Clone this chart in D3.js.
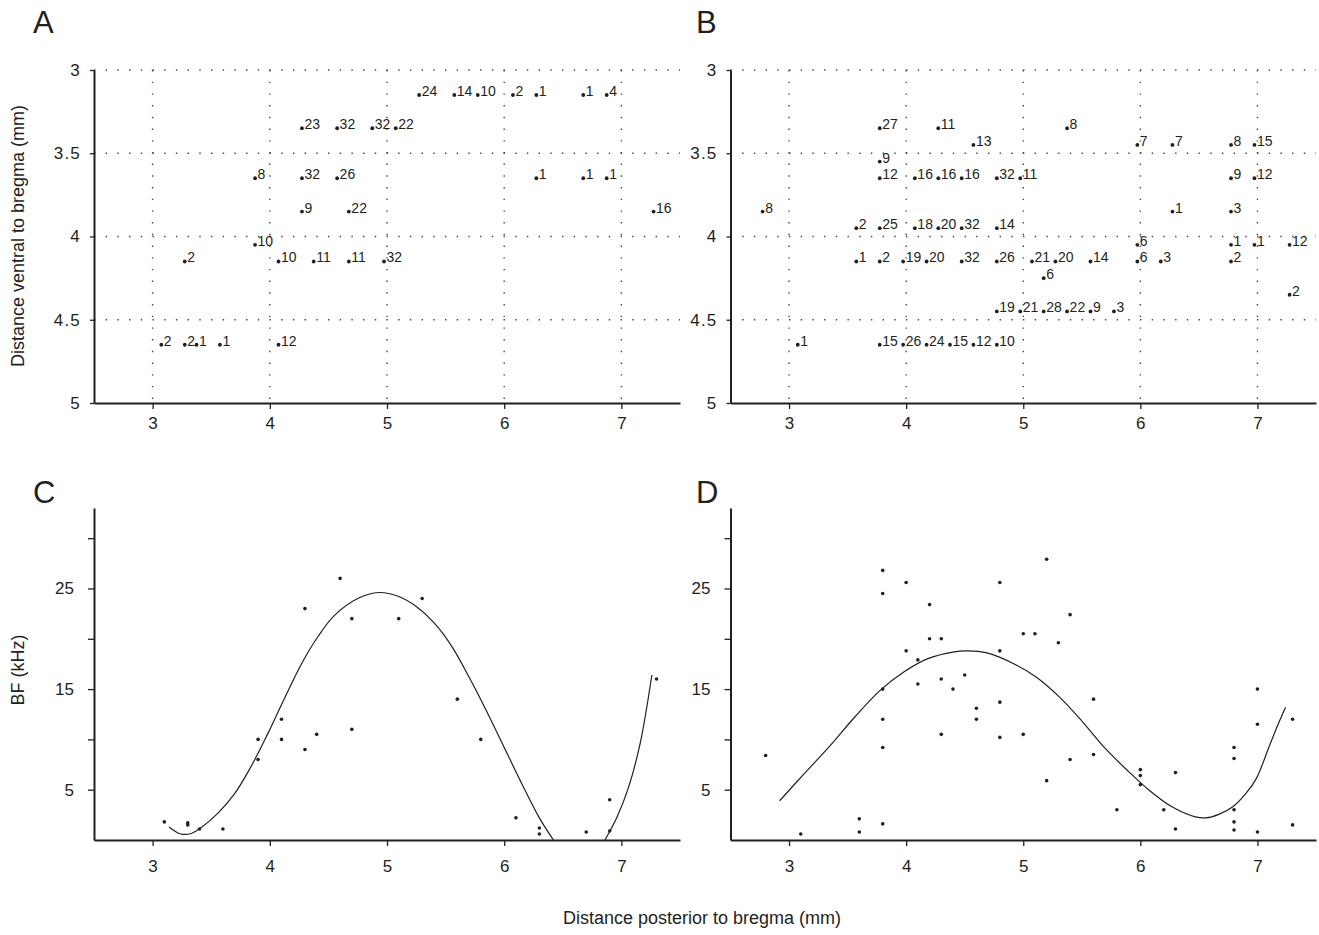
<!DOCTYPE html>
<html>
<head>
<meta charset="utf-8">
<script src="https://cdn.jsdelivr.net/npm/d3@7"></script>
<style>
  body { margin: 0; background: #fff; }
  svg { font-family: "Liberation Sans", Arial, sans-serif; }
  .domain { stroke: #231f20; stroke-width: 2; }
  .tick line { stroke: #231f20; stroke-width: 1.3; }
  .tick text { fill: #231f20; font-size: 17px; }
  .grid { stroke: #444; stroke-width: 1.4; stroke-dasharray: 1.4 10.3; }
</style>
</head>
<body>
<div id="chart"></div>
<script>
// shared axes
var xTicks = [3, 4, 5, 6, 7];
var depthTicks = [3, 3.5, 4, 4.5, 5];
var depthGrid = [3, 3.5, 4, 4.5];
var bfTicks = [5, 10, 15, 20, 25, 30];
var bfLabels = [5, 15, 25];

// panel A: recording sites (posterior mm, ventral mm, site label)
var aPosterior = [5.3, 5.6, 5.8, 6.1, 6.3, 6.7, 6.9,
  4.3, 4.6, 4.9, 5.1,
  3.9, 4.3, 4.6, 6.3, 6.7, 6.9,
  4.3, 4.7, 7.3,
  3.9,
  3.3, 4.1, 4.4, 4.7, 5.0,
  3.1, 3.3, 3.4, 3.6, 4.1];
var aVentral = [3.15, 3.15, 3.15, 3.15, 3.15, 3.15, 3.15,
  3.35, 3.35, 3.35, 3.35,
  3.65, 3.65, 3.65, 3.65, 3.65, 3.65,
  3.85, 3.85, 3.85,
  4.05,
  4.15, 4.15, 4.15, 4.15, 4.15,
  4.65, 4.65, 4.65, 4.65, 4.65];
var aLabel = [24, 14, 10, 2, 1, 1, 4,
  23, 32, 32, 22,
  8, 32, 26, 1, 1, 1,
  9, 22, 16,
  10,
  2, 10, 11, 11, 32,
  2, 2, 1, 1, 12];

// panel B: recording sites
var bPosterior = [3.8, 4.3, 5.4,
  4.6, 6.0, 6.3, 6.8, 7.0,
  3.8,
  3.8, 4.1, 4.3, 4.5, 4.8, 5.0, 6.8, 7.0,
  2.8, 6.3, 6.8,
  3.6, 3.8, 4.1, 4.3, 4.5, 4.8,
  6.0, 6.8, 7.0, 7.3,
  3.6, 3.8, 4.0, 4.2, 4.5, 4.8, 5.1, 5.3, 5.6, 6.0, 6.2, 6.8,
  5.2,
  7.3,
  4.8, 5.0, 5.2, 5.4, 5.6, 5.8,
  3.1, 3.8, 4.0, 4.2, 4.4, 4.6, 4.8];
var bVentral = [3.35, 3.35, 3.35,
  3.45, 3.45, 3.45, 3.45, 3.45,
  3.55,
  3.65, 3.65, 3.65, 3.65, 3.65, 3.65, 3.65, 3.65,
  3.85, 3.85, 3.85,
  3.95, 3.95, 3.95, 3.95, 3.95, 3.95,
  4.05, 4.05, 4.05, 4.05,
  4.15, 4.15, 4.15, 4.15, 4.15, 4.15, 4.15, 4.15, 4.15, 4.15, 4.15, 4.15,
  4.25,
  4.35,
  4.45, 4.45, 4.45, 4.45, 4.45, 4.45,
  4.65, 4.65, 4.65, 4.65, 4.65, 4.65, 4.65];
var bLabel = [27, 11, 8,
  13, 7, 7, 8, 15,
  9,
  12, 16, 16, 16, 32, 11, 9, 12,
  8, 1, 3,
  2, 25, 18, 20, 32, 14,
  6, 1, 1, 12,
  1, 2, 19, 20, 32, 26, 21, 20, 14, 6, 3, 2,
  6,
  2,
  19, 21, 28, 22, 9, 3,
  1, 15, 26, 24, 15, 12, 10];

// panel C: best frequency (kHz) against posterior distance
var cPosterior = [3.1, 3.3, 3.3, 3.4, 3.6, 3.9, 3.9, 4.1, 4.1, 4.3, 4.3, 4.4, 4.6,
  4.7, 4.7, 5.1, 5.3, 5.6, 5.8, 6.1, 6.3, 6.3, 6.7, 6.9, 6.9, 7.3];
var cBF = [1.8, 1.7, 1.5, 1.1, 1.1, 10, 8, 12, 10, 23, 9, 10.5, 26,
  22, 11, 22, 24, 14, 10, 2.2, 1.2, 0.6, 0.8, 4, 0.9, 16];
// fitted curve (clipped at 0)
var cFitX1 = [3.14, 3.24, 3.33, 3.41, 3.56, 3.70, 3.84, 3.98, 4.13, 4.27, 4.41, 4.55,
  4.75, 4.93, 5.10, 5.25, 5.40, 5.55, 5.70, 5.85, 6.00, 6.15, 6.30, 6.42];
var cFitY1 = [1.3, 0.6, 0.65, 1.2, 2.7, 4.6, 7.3, 10.5, 14.2, 17.5, 20.2, 22.3,
  24.0, 24.6, 24.2, 23.2, 21.6, 19.3, 16.2, 12.8, 9.2, 5.6, 2.2, 0];
var cFitX2 = [6.86, 6.96, 7.06, 7.16, 7.26];
var cFitY2 = [0, 2.2, 5.2, 9.6, 16.4];

// panel D
var dPosterior = [2.8, 3.1, 3.6, 3.6, 3.8, 3.8, 3.8, 3.8, 3.8, 3.8, 4.0, 4.0, 4.1, 4.1,
  4.2, 4.2, 4.3, 4.3, 4.3, 4.4, 4.5, 4.6, 4.6, 4.8, 4.8, 4.8, 4.8,
  5.0, 5.0, 5.1, 5.2, 5.2, 5.3, 5.4, 5.4, 5.6, 5.6, 5.8, 6.0, 6.0, 6.0,
  6.2, 6.3, 6.3, 6.8, 6.8, 6.8, 6.8, 6.8, 7.0, 7.0, 7.0, 7.3, 7.3];
var dBF = [8.4, 0.6, 2.1, 0.8, 26.8, 24.5, 15, 12, 9.2, 1.6, 25.6, 18.8, 17.9, 15.5,
  23.4, 20, 20, 16, 10.5, 15, 16.4, 13.1, 12, 25.6, 18.8, 13.7, 10.2,
  20.5, 10.5, 20.5, 27.9, 5.9, 19.6, 22.4, 8, 14, 8.5, 3, 7, 6.4, 5.5,
  3, 6.7, 1.1, 9.2, 8.1, 3, 1.8, 1, 15, 11.5, 0.8, 12, 1.5];
var dFitX = [2.92, 3.13, 3.33, 3.56, 3.78, 3.98, 4.18, 4.41, 4.52, 4.69, 4.94, 5.11,
  5.31, 5.51, 5.70, 5.90, 6.07, 6.27, 6.47, 6.56, 6.67, 6.79, 6.90, 6.99, 7.10, 7.18, 7.24];
var dFitY = [3.9, 6.6, 9.1, 12.2, 14.9, 16.7, 18.0, 18.7, 18.8, 18.6, 17.4, 16.2,
  14.2, 11.7, 9.1, 6.8, 5.0, 3.3, 2.3, 2.2, 2.55, 3.3, 4.6, 6.1, 9.3, 11.6, 13.2];

var svg = d3.select("#chart").append("svg")
  .attr("width", 1319).attr("height", 935);

var xA = d3.scaleLinear().domain([2.5, 7.5]).range([94, 680]);
var xB = d3.scaleLinear().domain([2.5, 7.5]).range([730.5, 1316]);
var yDepth = d3.scaleLinear().domain([3, 5]).range([70, 403]);
var yBF = d3.scaleLinear().domain([0, 33]).range([840, 508]);
var plain = d3.format("");

function drawMap(x, posterior, ventral, labels) {
  var g = svg.append("g");

  // dotted grid
  g.selectAll(".vgrid").data(xTicks).enter().append("line")
    .attr("class", "grid")
    .attr("x1", function (d) { return x(d); }).attr("x2", function (d) { return x(d); })
    .attr("y1", yDepth(3)).attr("y2", yDepth(5));
  g.selectAll(".hgrid").data(depthGrid).enter().append("line")
    .attr("class", "grid")
    .attr("x1", x.range()[0]).attr("x2", x.range()[1])
    .attr("y1", function (d) { return yDepth(d); }).attr("y2", function (d) { return yDepth(d); });

  g.append("g")
    .attr("transform", "translate(" + x.range()[0] + ",0)")
    .call(d3.axisLeft(yDepth).tickValues(depthTicks).tickSize(4).tickPadding(9).tickSizeOuter(0)
      .tickFormat(plain))
    .selectAll(".tick text").style("letter-spacing", "1.2px");
  g.append("g")
    .attr("transform", "translate(0," + yDepth(5) + ")")
    .call(d3.axisBottom(x).tickValues(xTicks).tickSize(6).tickPadding(8).tickSizeOuter(0)
      .tickFormat(plain));

  var sites = posterior.map(function (p, i) {
    return { x: p, y: ventral[i], label: labels[i] };
  });
  var s = g.selectAll(".site").data(sites).enter().append("g")
    .attr("transform", function (d) { return "translate(" + (x(d.x) - 3) + "," + yDepth(d.y) + ")"; });
  s.append("circle").attr("r", 1.9).attr("fill", "#231f20");
  s.append("text").attr("x", 2.5).attr("y", 1)
    .attr("fill", "#231f20").style("font-size", "14px")
    .text(function (d) { return d.label; });
}

function drawBF(x, posterior, bf, fits) {
  var g = svg.append("g");
  g.append("g")
    .attr("transform", "translate(" + x.range()[0] + ",0)")
    .call(d3.axisLeft(yBF).tickValues(bfTicks).tickSize(6).tickPadding(14).tickSizeOuter(0)
      .tickFormat(function (d) { return bfLabels.indexOf(d) >= 0 ? d : ""; }));
  g.append("g")
    .attr("transform", "translate(0," + yBF(0) + ")")
    .call(d3.axisBottom(x).tickValues(xTicks).tickSize(6).tickPadding(14).tickSizeOuter(0)
      .tickFormat(plain));

  var line = d3.line()
    .x(function (d) { return x(d[0]); })
    .y(function (d) { return yBF(d[1]); })
    .curve(d3.curveCatmullRom);
  fits.forEach(function (f) {
    g.append("path")
      .datum(f[0].map(function (v, i) { return [v, f[1][i]]; }))
      .attr("d", line)
      .attr("fill", "none").attr("stroke", "#231f20").attr("stroke-width", 1.2);
  });

  g.selectAll(".pt").data(posterior.map(function (p, i) { return [p, bf[i]]; }))
    .enter().append("circle")
    .attr("cx", function (d) { return x(d[0]); })
    .attr("cy", function (d) { return yBF(d[1]); })
    .attr("r", 1.8).attr("fill", "#231f20");
}

drawMap(xA, aPosterior, aVentral, aLabel);
drawMap(xB, bPosterior, bVentral, bLabel);
drawBF(xA, cPosterior, cBF, [[cFitX1, cFitY1], [cFitX2, cFitY2]]);
drawBF(xB, dPosterior, dBF, [[dFitX, dFitY]]);

// panel letters
var letters = [["A", 33, 33], ["B", 696, 33], ["C", 33, 503], ["D", 696, 503]];
svg.selectAll(".letter").data(letters).enter().append("text")
  .attr("x", function (d) { return d[1]; }).attr("y", function (d) { return d[2]; })
  .attr("fill", "#231f20").style("font-size", "31px")
  .text(function (d) { return d[0]; });

// axis titles
svg.append("text")
  .attr("transform", "translate(24,236) rotate(-90)")
  .attr("text-anchor", "middle").attr("fill", "#231f20").style("font-size", "18px")
  .text("Distance ventral to bregma (mm)");
svg.append("text")
  .attr("transform", "translate(24,670) rotate(-90)")
  .attr("text-anchor", "middle").attr("fill", "#231f20").style("font-size", "18px")
  .text("BF (kHz)");
svg.append("text")
  .attr("x", 702).attr("y", 924)
  .attr("text-anchor", "middle").attr("fill", "#231f20").style("font-size", "18px")
  .text("Distance posterior to bregma (mm)");
</script>
</body>
</html>
